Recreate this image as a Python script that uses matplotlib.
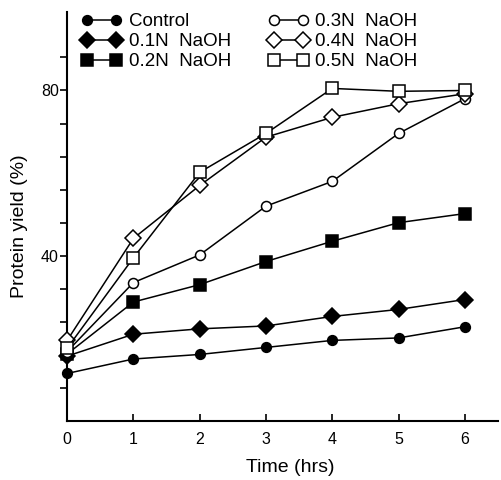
import numpy as np
from matplotlib import pyplot as plt

plt.rcParams['font.family'] = ['Liberation Sans', 'DejaVu Sans']

# время, ч
hours = [0, 1, 2, 3, 4, 5, 6]

# выход белка, %
control = [11.5, 15.0, 16.1, 17.8, 19.5, 20.1, 22.8]
naoh_01 = [15.7, 21.0, 22.3, 23.0, 25.3, 27.0, 29.4]
naoh_02 = [16.2, 28.8, 33.0, 38.6, 43.5, 48.0, 50.2]
naoh_03 = [16.8, 33.5, 40.2, 52.0, 58.0, 69.6, 78.0]
naoh_04 = [19.5, 44.2, 57.0, 68.7, 73.5, 76.8, 79.2]
naoh_05 = [17.6, 39.5, 60.2, 69.6, 80.5, 79.8, 80.0]

labels = ['Control', '0.1N  NaOH', '0.2N  NaOH',
          '0.3N  NaOH', '0.4N  NaOH', '0.5N  NaOH']

fig = plt.figure(figsize=(5.01, 4.8), dpi=100)
ax = fig.add_axes([0.134, 0.123, 0.86, 0.852])

series = [
    (control, 'o', 'black', 7.0),
    (naoh_01, 'D', 'black', 8.0),
    (naoh_02, 's', 'black', 8.2),
    (naoh_03, 'o', 'white', 7.2),
    (naoh_04, 'D', 'white', 7.8),
    (naoh_05, 's', 'white', 8.2),
]
for (y, m, fc, ms), lab in zip(series, labels):
    ax.plot(hours, y, color='black', linewidth=1.1, marker=m, markersize=ms,
            markerfacecolor=fc, markeredgecolor='black', markeredgewidth=1.1,
            label=lab, clip_on=False, zorder=3)

ax.set_xlim(0, 6.5)
ax.set_ylim(0, 99)
ax.spines['top'].set_visible(False)
ax.spines['right'].set_visible(False)
ax.spines['left'].set_linewidth(1.5)
ax.spines['bottom'].set_linewidth(1.5)

ax.set_xticks(hours)
ax.tick_params(axis='x', direction='in', length=5, width=1.2, labelsize=11.5, pad=8)
yt = np.arange(8, 96, 8)
ax.set_yticks(yt)
ax.set_yticklabels(['40' if v == 40 else '80' if v == 80 else '' for v in yt])
ax.tick_params(axis='y', direction='out', length=5, width=1.2, labelsize=11.5, pad=1)

ax.set_xlabel('Time (hrs)', fontsize=14)
ax.xaxis.set_label_coords(0.517, -0.093)
ax.set_ylabel('Protein yield (%)', fontsize=14)
ax.yaxis.set_label_coords(-0.09, 0.477)

ax.legend(loc='upper left', bbox_to_anchor=(0.025, 1.006), ncol=2, frameon=False,
          numpoints=2, handlelength=2.15, handletextpad=0.35, columnspacing=2.0,
          labelspacing=0.15, borderaxespad=0, borderpad=0.2, fontsize=13.5)

fig.savefig('out.png', dpi=100)
